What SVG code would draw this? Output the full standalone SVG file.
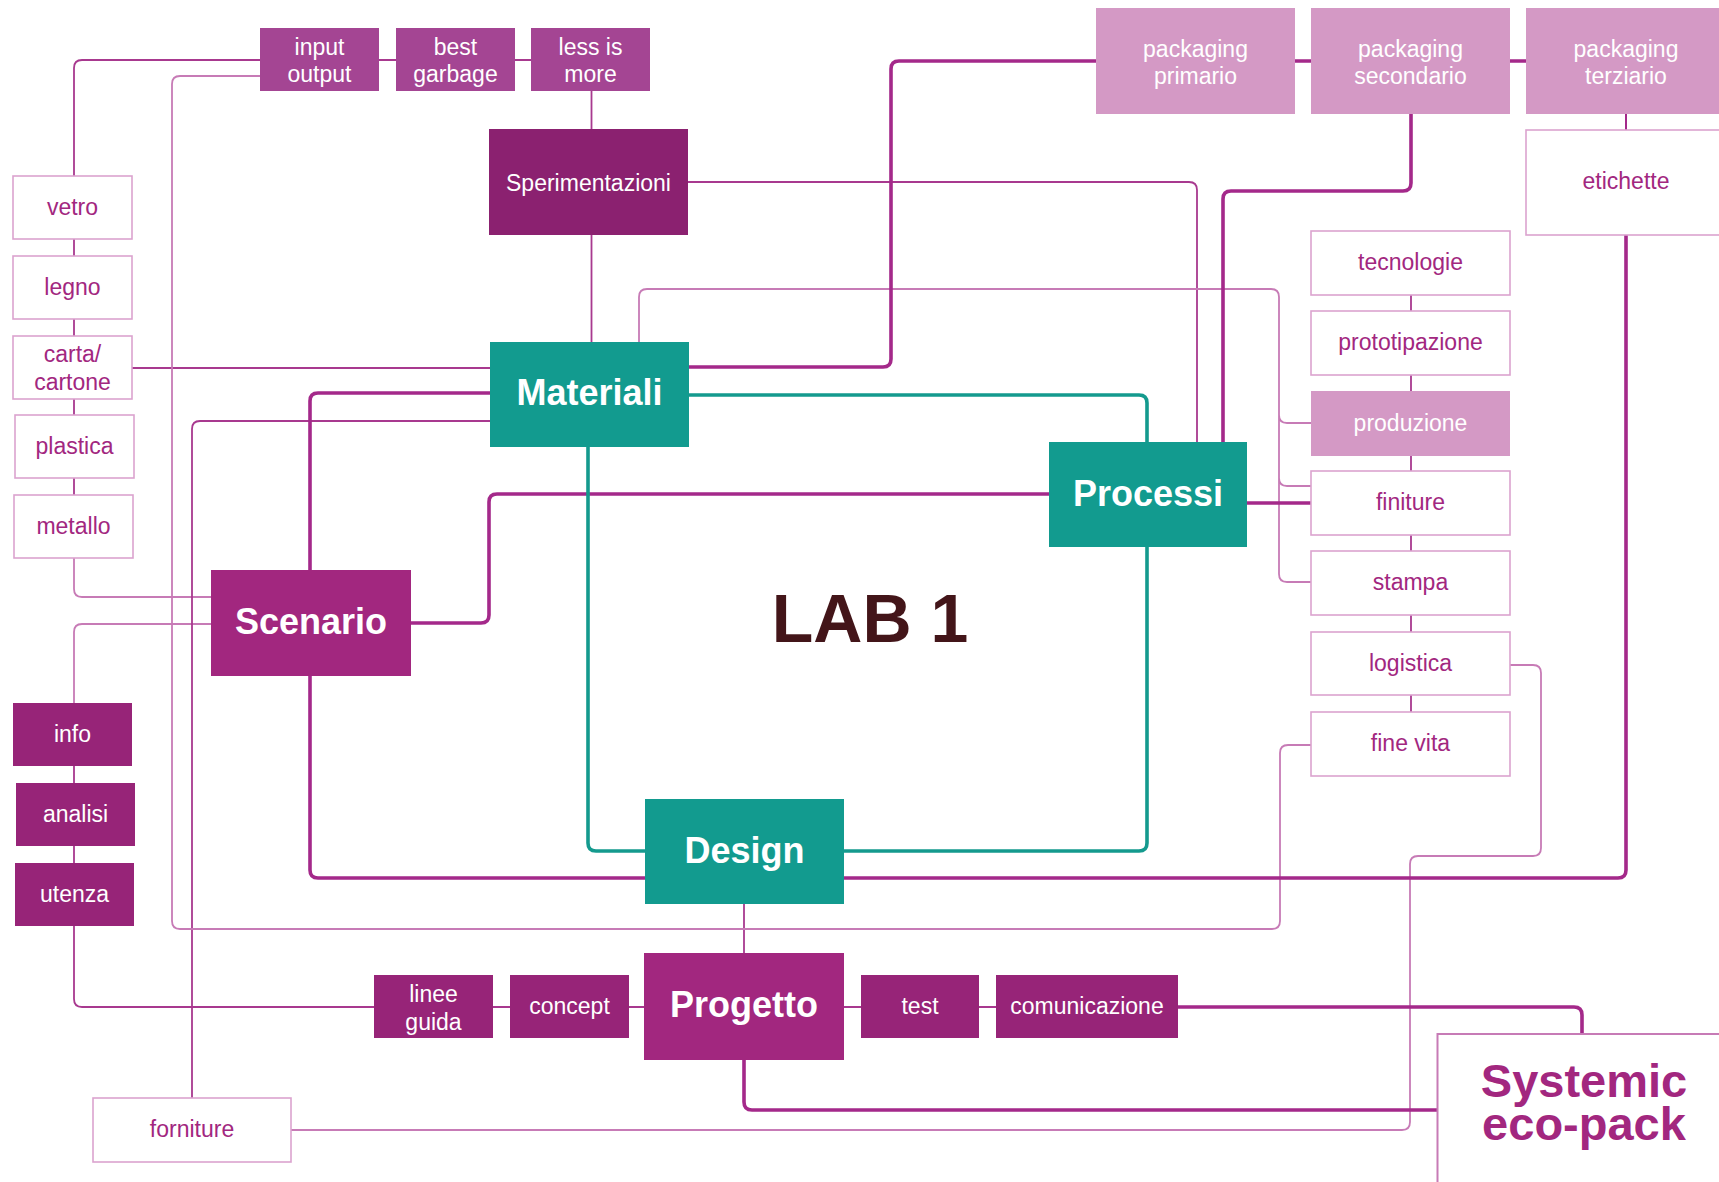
<svg xmlns="http://www.w3.org/2000/svg" width="1719" height="1182" viewBox="0 0 1719 1182">
<style>
text{font-family:"Liberation Sans",Arial,sans-serif;text-anchor:middle}
.s{font-size:23px}
.b{font-size:36px;font-weight:bold;fill:#fff}
.w{fill:#fff}
.m{fill:#a2277f}
.wb{fill:#fff;stroke:#dba3cf;stroke-width:1.6}
.teal{fill:#129b8f}
.mag{fill:#a2277f}
.dk{fill:#8b2170}
.vi{fill:#972478}
.lt{fill:#a44593}
.pk{fill:#d499c5}
.c path{fill:none}
.tl{stroke:#a8398f;stroke-width:1.8}
.tp{stroke:#c77bb6;stroke-width:1.8}
.tk{stroke:#a4298a;stroke-width:3.6}
.tt{stroke:#149a8e;stroke-width:3.6}
.big{font-size:47px;font-weight:bold}
</style>
<rect width="1719" height="1182" fill="#fff"/>
<g id="connectors" class="c">
<path class="tl" d="M74 176V68Q74 60 82 60H260M379 60H396M515 60H531"/>
<path class="tl" d="M591.5 91V129M591.5 235V342"/>
<path class="tl" d="M74 239V256M74 319V336M74 399V415M74 478V495M74 766V783M74 846V863"/>
<path class="tp" d="M74 558V589Q74 597 82 597H211"/>
<path class="tp" d="M211 624H82Q74 624 74 632V703"/>
<path class="tl" d="M74 926V999Q74 1007 82 1007H374M493 1007H510M629 1007H644M844 1007H861M979 1007H996"/>
<path class="tl" d="M744 904V953"/>
<path class="tl" d="M132 368H490"/>
<path class="tl" d="M490 421H200Q192 421 192 429V1098"/>
<path class="tp" d="M260 76H180Q172 76 172 84V921Q172 929 180 929H1272Q1280 929 1280 921V753Q1280 745 1288 745H1311"/>
<path class="tl" d="M688 182H1189Q1197 182 1197 190V442"/>
<path class="tp" d="M639 342V297Q639 289 647 289H1271Q1279 289 1279 297V574Q1279 582 1287 582H1311M1279 415Q1279 423 1287 423H1311M1279 478Q1279 486 1287 486H1311"/>
<path class="tl" d="M1411 295V311M1411 375V391M1411 456V471M1411 535V551M1411 615V632M1411 695V712"/>
<path class="tp" d="M1510 665H1533Q1541 665 1541 673V848Q1541 856 1533 856H1418Q1410 856 1410 864V1122Q1410 1130 1402 1130H291"/>
<path class="tk" d="M1626 114V130" style="stroke-width:2"/>
<path class="tk" d="M689 367H883Q891 367 891 359V69Q891 61 899 61H1096M1295 61H1311M1510 61H1526"/>
<path class="tk" d="M1411 114V183Q1411 191 1403 191H1231Q1223 191 1223 199V442"/>
<path class="tk" d="M1626 235V870Q1626 878 1618 878H844"/>
<path class="tk" d="M490 393H318Q310 393 310 401V570M310 676V870Q310 878 318 878H645"/>
<path class="tk" d="M411 623H481Q489 623 489 615V502Q489 494 497 494H1049"/>
<path class="tk" d="M1247 503H1311"/>
<path class="tk" d="M1178 1007H1574Q1582 1007 1582 1015V1034"/>
<path class="tk" d="M744 1060V1102Q744 1110 752 1110H1437"/>
<path class="tt" d="M689 395H1139Q1147 395 1147 403V442"/>
<path class="tt" d="M1147 547V843Q1147 851 1139 851H844"/>
<path class="tt" d="M588 447V843Q588 851 596 851H645"/>
</g>
<g id="input-output"><rect class="lt" x="260" y="28" width="119" height="63"/><text class="s w" x="319.5" y="55">input</text><text class="s w" x="319.5" y="82">output</text></g>
<g id="best-garbage"><rect class="lt" x="396" y="28" width="119" height="63"/><text class="s w" x="455.5" y="55">best</text><text class="s w" x="455.5" y="82">garbage</text></g>
<g id="less-is-more"><rect class="lt" x="531" y="28" width="119" height="63"/><text class="s w" x="590.5" y="55">less is</text><text class="s w" x="590.5" y="82">more</text></g>
<g id="sperimentazioni"><rect class="dk" x="489" y="129" width="199" height="106"/><text class="s w" x="588.5" y="191">Sperimentazioni</text></g>
<g id="materiali"><rect class="teal" x="490" y="342" width="199" height="105"/><text class="b" x="589.5" y="405">Materiali</text></g>
<g id="vetro"><rect class="wb" x="13" y="176" width="119" height="63"/><text class="s m" x="72.5" y="215">vetro</text></g>
<g id="legno"><rect class="wb" x="13" y="256" width="119" height="63"/><text class="s m" x="72.5" y="295">legno</text></g>
<g id="carta-cartone"><rect class="wb" x="13" y="336" width="119" height="63"/><text class="s m" x="72.5" y="362">carta/</text><text class="s m" x="72.5" y="390">cartone</text></g>
<g id="plastica"><rect class="wb" x="15" y="415" width="119" height="63"/><text class="s m" x="74.5" y="454">plastica</text></g>
<g id="metallo"><rect class="wb" x="14" y="495" width="119" height="63"/><text class="s m" x="73.5" y="534">metallo</text></g>
<g id="scenario"><rect class="mag" x="211" y="570" width="200" height="106"/><text class="b" x="311" y="634">Scenario</text></g>
<g id="info"><rect class="vi" x="13" y="703" width="119" height="63"/><text class="s w" x="72.5" y="742">info</text></g>
<g id="analisi"><rect class="vi" x="16" y="783" width="119" height="63"/><text class="s w" x="75.5" y="822">analisi</text></g>
<g id="utenza"><rect class="vi" x="15" y="863" width="119" height="63"/><text class="s w" x="74.5" y="902">utenza</text></g>
<g id="design"><rect class="teal" x="645" y="799" width="199" height="105"/><text class="b" x="744.5" y="863">Design</text></g>
<g id="progetto"><rect class="mag" x="644" y="953" width="200" height="107"/><text class="b" x="744" y="1017">Progetto</text></g>
<g id="linee-guida"><rect class="vi" x="374" y="975" width="119" height="63"/><text class="s w" x="433.5" y="1002">linee</text><text class="s w" x="433.5" y="1030">guida</text></g>
<g id="concept"><rect class="vi" x="510" y="975" width="119" height="63"/><text class="s w" x="569.5" y="1014">concept</text></g>
<g id="test"><rect class="vi" x="861" y="975" width="118" height="63"/><text class="s w" x="920" y="1014">test</text></g>
<g id="comunicazione"><rect class="vi" x="996" y="975" width="182" height="63"/><text class="s w" x="1087" y="1014">comunicazione</text></g>
<g id="forniture"><rect class="wb" x="93" y="1098" width="198" height="64"/><text class="s m" x="192" y="1137">forniture</text></g>
<g id="systemic-eco-pack"><rect x="1437.5" y="1034" width="300" height="170" fill="#fff" stroke="#c77bb6" stroke-width="2"/><text x="1584" y="1097" class="big m">Systemic</text><text x="1584" y="1140" class="big m">eco-pack</text></g>
<g id="packaging-primario"><rect class="pk" x="1096" y="8" width="199" height="106"/><text class="s w" x="1195.5" y="57">packaging</text><text class="s w" x="1195.5" y="84">primario</text></g>
<g id="packaging-secondario"><rect class="pk" x="1311" y="8" width="199" height="106"/><text class="s w" x="1410.5" y="57">packaging</text><text class="s w" x="1410.5" y="84">secondario</text></g>
<g id="packaging-terziario"><rect class="pk" x="1526" y="8" width="200" height="106"/><text class="s w" x="1626" y="57">packaging</text><text class="s w" x="1626" y="84">terziario</text></g>
<g id="etichette"><rect class="wb" x="1526" y="130" width="200" height="105"/><text class="s m" x="1626" y="189">etichette</text></g>
<g id="tecnologie"><rect class="wb" x="1311" y="231" width="199" height="64"/><text class="s m" x="1410.5" y="270">tecnologie</text></g>
<g id="prototipazione"><rect class="wb" x="1311" y="311" width="199" height="64"/><text class="s m" x="1410.5" y="350">prototipazione</text></g>
<g id="produzione"><rect class="pk" x="1311" y="391" width="199" height="65"/><text class="s w" x="1410.5" y="431">produzione</text></g>
<g id="finiture"><rect class="wb" x="1311" y="471" width="199" height="64"/><text class="s m" x="1410.5" y="510">finiture</text></g>
<g id="stampa"><rect class="wb" x="1311" y="551" width="199" height="64"/><text class="s m" x="1410.5" y="590">stampa</text></g>
<g id="logistica"><rect class="wb" x="1311" y="632" width="199" height="63"/><text class="s m" x="1410.5" y="671">logistica</text></g>
<g id="fine-vita"><rect class="wb" x="1311" y="712" width="199" height="64"/><text class="s m" x="1410.5" y="751">fine vita</text></g>
<g id="processi"><rect class="teal" x="1049" y="442" width="198" height="105"/><text class="b" x="1148" y="506">Processi</text></g>
<g id="lab1"><text x="870" y="642" style="font-size:68px;font-weight:bold;fill:#431519">LAB 1</text></g>
</svg>
